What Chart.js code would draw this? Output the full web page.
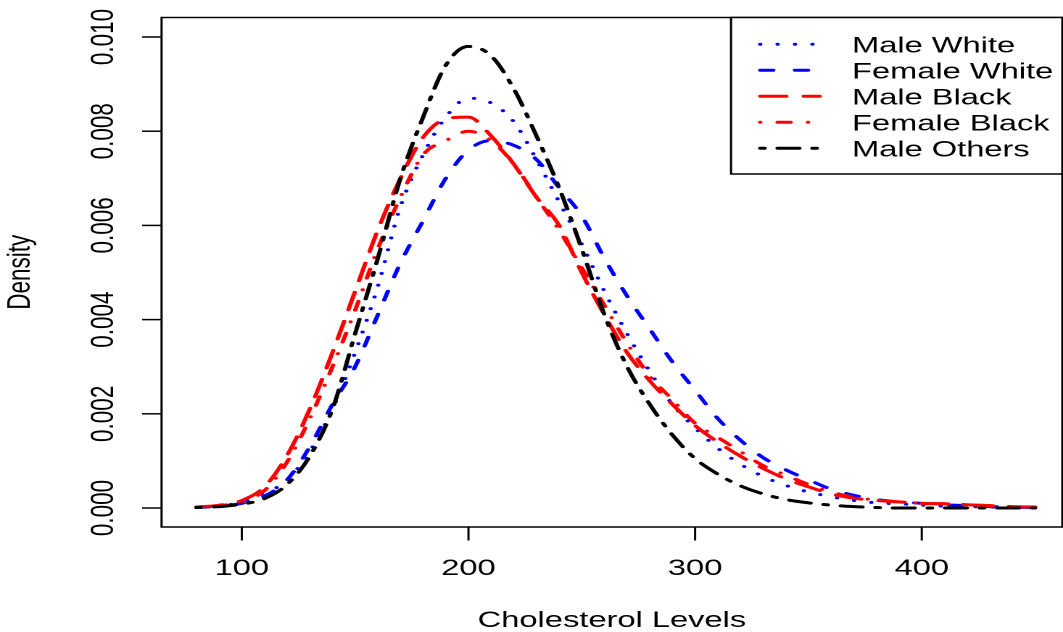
<!DOCTYPE html>
<html>
<head>
<meta charset="utf-8">
<script src="https://cdn.jsdelivr.net/npm/chart.js@4/dist/chart.umd.min.js"></script>
<style>
  html, body { margin: 0; padding: 0; background: #fff; overflow: hidden; }
</style>
</head>
<body>
<!-- drawn at 733 px wide and stretched to 1063, like the original R png -->
<canvas id="myChart" width="733" height="632" style="width:1063px;height:632px"></canvas>
<script>
// density values, every 10 units of cholesterol
var cholesterol = [80, 90, 100, 110, 120, 130, 140, 150, 160, 170, 180, 190, 200, 210, 220, 230, 240, 250, 260,
  270, 280, 290, 300, 310, 320, 330, 340, 350, 360, 370, 380, 390, 400, 410, 420, 430, 440, 450];

var maleWhite = [0.00001, 0.00005, 0.00012, 0.0003, 0.0006, 0.0012, 0.0021, 0.0033, 0.0047, 0.0064, 0.0075,
  0.0083, 0.0087, 0.0086, 0.0082, 0.0074, 0.0065, 0.0056, 0.0046, 0.0037, 0.0029, 0.0022, 0.0017, 0.00127,
  0.00093, 0.00067, 0.00048, 0.00034, 0.00024, 0.00016, 0.00011, 0.00009, 0.00006, 0.00004, 0.00003, 0.00002,
  0.00001, 0.00001];
var femaleWhite = [0.00001, 0.00004, 0.0001, 0.00025, 0.0006, 0.0013, 0.0022, 0.003, 0.0041, 0.0052, 0.0061,
  0.007, 0.0076, 0.0078, 0.0077, 0.0074, 0.0068, 0.0062, 0.0053, 0.0045, 0.0038, 0.0031, 0.0025, 0.0019,
  0.00144, 0.00107, 0.00081, 0.0006, 0.0004, 0.00027, 0.00018, 0.00013, 0.0001, 0.00007, 0.00005, 0.00003,
  0.00002, 0.00001];
var maleBlack = [0.00002, 0.00006, 0.00016, 0.00045, 0.00112, 0.0021, 0.0033, 0.0046, 0.0059, 0.007, 0.00787,
  0.00826, 0.0083, 0.0079, 0.0073, 0.0066, 0.006, 0.005, 0.0041, 0.0033, 0.0027, 0.0022, 0.00175, 0.0014,
  0.0011, 0.00084, 0.00062, 0.00045, 0.0003, 0.00021, 0.00016, 0.00013, 0.0001, 0.00009, 0.00007, 0.00005,
  0.00003, 0.00002];
var femaleBlack = [0.00002, 0.00005, 0.00013, 0.00037, 0.00098, 0.0019, 0.003, 0.0042, 0.0055, 0.0066, 0.0075,
  0.0078, 0.008, 0.0078, 0.0073, 0.0066, 0.0059, 0.0051, 0.0043, 0.0035, 0.0028, 0.0023, 0.0018, 0.0015,
  0.0012, 0.0009, 0.0007, 0.0005, 0.00034, 0.00023, 0.00017, 0.00013, 0.0001, 0.00009, 0.00007, 0.00005,
  0.00003, 0.00002];
var maleOthers = [0.00001, 0.00003, 0.00008, 0.0002, 0.0005, 0.0011, 0.0021, 0.0037, 0.0053, 0.007, 0.0083,
  0.0094, 0.0098, 0.0096, 0.0089, 0.0079, 0.0068, 0.0055, 0.0041, 0.003, 0.0022, 0.00155, 0.00105, 0.00072,
  0.00047, 0.0003, 0.00018, 0.00011, 0.00006, 0.00003, 0.00001, 0, 0, 0, 0, 0, 0, 0];

var seriesNames = ["Male White", "Female White", "Male Black", "Female Black", "Male Others"];
var seriesValues = [maleWhite, femaleWhite, maleBlack, femaleBlack, maleOthers];

var xTicks = [100, 200, 300, 400];
var yTicks = [0, 0.002, 0.004, 0.006, 0.008, 0.01];
var yTickLabels = ["0.000", "0.002", "0.004", "0.006", "0.008", "0.010"];

// styles: R colours and lty codes (dotted, dashed, longdash, dotdash, twodash)
var seriesColors = ["#0000ff", "#0000ff", "#ff0000", "#ff0000", "#000000"];
var seriesLty = [[1, 3], [4, 4], [7, 3], [1, 3, 4, 3], [2, 2, 6, 2]];

var LW = 3;
var UNIT = 3;
var FONT = "22.5px 'Liberation Sans', Arial, sans-serif";

function rDash(lty) {
  return lty.map(function (v, i) {
    return i % 2 === 0 ? Math.max(0.01, v * UNIT - LW) : v * UNIT + LW;
  });
}

var datasets = seriesNames.map(function (name, k) {
  return {
    label: name,
    data: cholesterol.map(function (x, i) {
      return { x: x, y: seriesValues[k][i] };
    }),
    borderColor: seriesColors[k],
    borderWidth: LW,
    borderDash: rDash(seriesLty[k]),
    borderCapStyle: "round",
    borderJoinStyle: "round",
    cubicInterpolationMode: "monotone",
    fill: false,
    pointRadius: 0,
    order: seriesNames.length - 1 - k
  };
});

// box, axes and legend the R way
var rFrame = {
  id: "rFrame",
  afterDraw: function (chart) {
    var c = chart.ctx;
    var a = chart.chartArea;
    var xs = chart.scales.x;
    var ys = chart.scales.y;
    c.save();
    c.strokeStyle = "#000";
    c.fillStyle = "#000";
    c.lineWidth = 1.5;
    c.setLineDash([]);
    c.strokeRect(a.left, a.top, a.right - a.left, a.bottom - a.top);

    c.font = FONT;
    c.textAlign = "center";
    c.textBaseline = "alphabetic";

    xTicks.forEach(function (v) {
      var px = xs.getPixelForValue(v);
      c.beginPath();
      c.moveTo(px, a.bottom);
      c.lineTo(px, a.bottom + 13.5);
      c.stroke();
      c.fillText(String(v), px, 575);
    });
    c.fillText("Cholesterol Levels", (a.left + a.right) / 2, 627);

    yTicks.forEach(function (v, i) {
      var py = ys.getPixelForValue(v);
      c.beginPath();
      c.moveTo(a.left - 13.4, py);
      c.lineTo(a.left, py);
      c.stroke();
      c.save();
      c.translate(77.9, py);
      c.rotate(-Math.PI / 2);
      c.fillText(yTickLabels[i], 0, 0);
      c.restore();
    });
    c.save();
    c.translate(20.7, (a.top + a.bottom) / 2);
    c.rotate(-Math.PI / 2);
    c.fillText("Density", 0, 0);
    c.restore();

    // legend
    var lx = 504.1;
    c.fillStyle = "#fff";
    c.fillRect(lx, a.top, a.right - lx, 174 - a.top);
    c.strokeRect(lx, a.top, a.right - lx, 174 - a.top);
    c.textAlign = "left";
    seriesNames.forEach(function (name, i) {
      var cy = 44.3 + i * 26;
      c.strokeStyle = seriesColors[i];
      c.lineWidth = LW;
      c.lineCap = "round";
      c.setLineDash(rDash(seriesLty[i]));
      c.beginPath();
      c.moveTo(522.7 + LW / 2, cy);
      c.lineTo(566.8 - LW / 2, cy);
      c.stroke();
      c.fillStyle = "#000";
      c.fillText(name, 587.5, cy + 8);
    });
    c.restore();
  }
};

var ctx = document.getElementById("myChart").getContext("2d");
var myChart = new Chart(ctx, {
  type: "line",
  data: { datasets: datasets },
  options: {
    responsive: false,
    devicePixelRatio: 2,
    animation: false,
    layout: { padding: { left: 111.4, top: 17.5, right: 0.5, bottom: 105 } },
    scales: {
      x: { type: "linear", min: 64.6, max: 462, display: false },
      y: { type: "linear", min: -0.000403, max: 0.010414, display: false }
    },
    plugins: {
      legend: { display: false },
      tooltip: { enabled: false }
    }
  },
  plugins: [rFrame]
});
</script>
</body>
</html>
